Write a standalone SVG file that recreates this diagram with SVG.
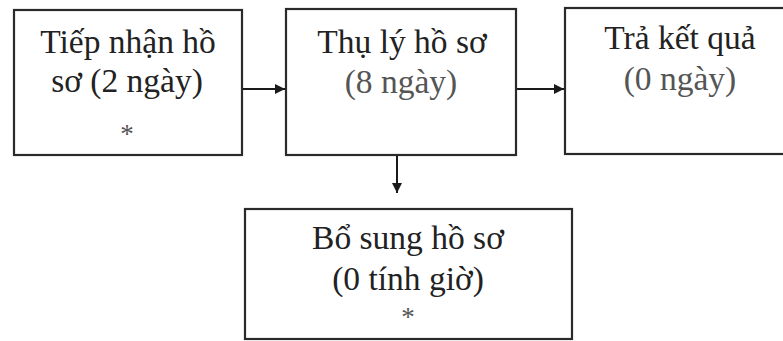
<svg xmlns="http://www.w3.org/2000/svg" width="783" height="341" viewBox="0 0 783 341">
<style>
.box{fill:#fff;stroke:#2a2a2a;stroke-width:2.2}
.t{font-family:'Liberation Serif','Times New Roman',Times,serif;font-size:33.5px;fill:#222;text-anchor:middle}
.g{fill:#555}
.ast{font-family:'Liberation Serif','Times New Roman',Times,serif;font-size:27px;fill:#555;text-anchor:middle}
.c{stroke:#1a1a1a;stroke-width:2;fill:none}
</style>
<defs>
<marker id="ah" viewBox="0 0 10 10" refX="10" refY="5" markerWidth="5.5" markerHeight="5" orient="auto" markerUnits="strokeWidth">
<path d="M0,0 L10,5 L0,10 z" fill="#1a1a1a"/>
</marker>
</defs>
<rect x="0" y="0" width="783" height="341" fill="#fff"/>
<g id="n1">
<rect class="box" x="14" y="10" width="228" height="145"/>
<text class="t" x="128" y="53">Tiếp nhận hồ</text>
<text class="t" x="127" y="92">sơ (2 ngày)</text>
<text class="ast" x="127" y="143">*</text>
</g>
<g id="n2">
<rect class="box" x="286" y="9" width="230" height="146"/>
<text class="t" x="402" y="53">Thụ lý hồ sơ</text>
<text class="t g" x="401" y="93">(8 ngày)</text>
</g>
<g id="n3">
<rect class="box" x="565" y="8" width="240" height="146"/>
<text class="t" x="680" y="49">Trả kết quả</text>
<text class="t g" x="680" y="90">(0 ngày)</text>
</g>
<g id="n4">
<rect class="box" x="245" y="209" width="327" height="130"/>
<text class="t" x="408" y="249">Bổ sung hồ sơ</text>
<text class="t" x="408" y="290">(0 tính giờ)</text>
<text class="ast" x="408" y="326">*</text>
</g>
<g id="connectors">
<line class="c" x1="243" y1="89" x2="285" y2="89" marker-end="url(#ah)"/>
<line class="c" x1="517" y1="89" x2="564" y2="89" marker-end="url(#ah)"/>
<line class="c" x1="397" y1="156" x2="397" y2="193" marker-end="url(#ah)"/>
</g>
</svg>
